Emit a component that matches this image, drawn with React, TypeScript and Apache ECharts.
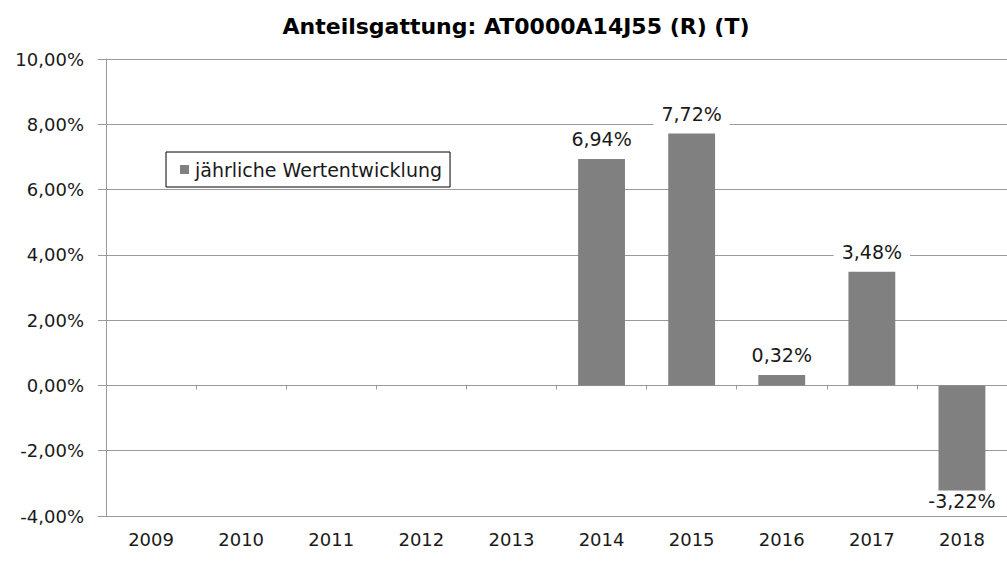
import React, { useEffect, useRef } from "react";
import * as echarts from "echarts";

const TITLE = "Anteilsgattung: AT0000A14J55 (R) (T)";
const SERIES_NAME = "jährliche Wertentwicklung";
const YEARS = ["2009", "2010", "2011", "2012", "2013", "2014", "2015", "2016", "2017", "2018"];
const VALUES: (number | null)[] = [null, null, null, null, null, 6.94, 7.72, 0.32, 3.48, -3.22];
const Y_MIN = -4;
const Y_MAX = 10;
const Y_STEP = 2;

const FONT = "DejaVu Sans";
const LINE = "#9a9a9a";
const fmt = (v: number) => v.toFixed(2).replace(".", ",") + "%";

export default function App() {
  const ref = useRef<HTMLDivElement>(null);
  useEffect(() => {
    if (!ref.current) return;
    const chart = echarts.init(ref.current, null, { renderer: "svg" });
    const data = VALUES.map((v) =>
      v === null
        ? null
        : {
            value: v,
            label:
              v < 0
                ? { position: "bottom", distance: 1, padding: [0, 8, 0, 8] }
                : { position: "top" },
          }
    );
    chart.setOption({
      animation: false,
      backgroundColor: "#ffffff",
      textStyle: { fontFamily: FONT },
      title: {
        text: TITLE,
        left: 511,
        textAlign: "center",
        top: 10,
        textStyle: { fontFamily: FONT, fontWeight: "bold", fontSize: 22, color: "#000" },
      },
      legend: {
        left: 166,
        top: 152,
        padding: [8, 8, 8, 14],
        borderColor: "#000",
        borderWidth: 1,
        icon: "rect",
        itemWidth: 9,
        itemHeight: 9,
        itemGap: 5,
        textStyle: { fontFamily: FONT, fontSize: 19, color: "#1a1a1a", padding: [0, 0, 0, 1] },
        data: [SERIES_NAME],
      },
      grid: { left: 106, right: 0, top: 59, bottom: 45, containLabel: false },
      xAxis: [
        {
          type: "category",
          data: YEARS,
          boundaryGap: true,
          axisLine: { onZero: true, lineStyle: { color: LINE, width: 1 } },
          axisTick: { show: true, length: 4, alignWithLabel: false, lineStyle: { color: LINE } },
          axisLabel: { show: false },
        },
        {
          type: "category",
          data: YEARS,
          position: "bottom",
          boundaryGap: true,
          axisLine: { show: true, onZero: false, lineStyle: { color: LINE, width: 1 } },
          axisTick: { show: false },
          axisLabel: { show: true, margin: 14, fontFamily: FONT, fontSize: 18, color: "#1a1a1a" },
        },
      ],
      yAxis: {
        type: "value",
        min: Y_MIN,
        max: Y_MAX,
        interval: Y_STEP,
        axisLine: { show: true, lineStyle: { color: LINE, width: 1 } },
        axisTick: { show: true, length: 8, inside: false, lineStyle: { color: LINE } },
        splitLine: { show: true, lineStyle: { color: LINE, width: 1 } },
        axisLabel: {
          margin: 22,
          fontFamily: FONT,
          fontSize: 18,
          color: "#1a1a1a",
          formatter: (v: number) => fmt(v),
        },
      },
      series: [
        {
          name: SERIES_NAME,
          type: "bar",
          xAxisIndex: 0,
          data,
          barWidth: "52%",
          itemStyle: { color: "#808080" },
          label: {
            show: true,
            distance: 8,
            fontFamily: FONT,
            fontSize: 19,
            color: "#1a1a1a",
            backgroundColor: "#ffffff",
            padding: [2, 8, 2, 8],
            formatter: (p: any) => fmt(p.value),
          },
        },
      ],
    });
    return () => chart.dispose();
  }, []);
  return (
    <div
      ref={ref}
      style={{ position: "fixed", left: 0, top: 0, width: 1007, height: 561, background: "#fff" }}
    />
  );
}
